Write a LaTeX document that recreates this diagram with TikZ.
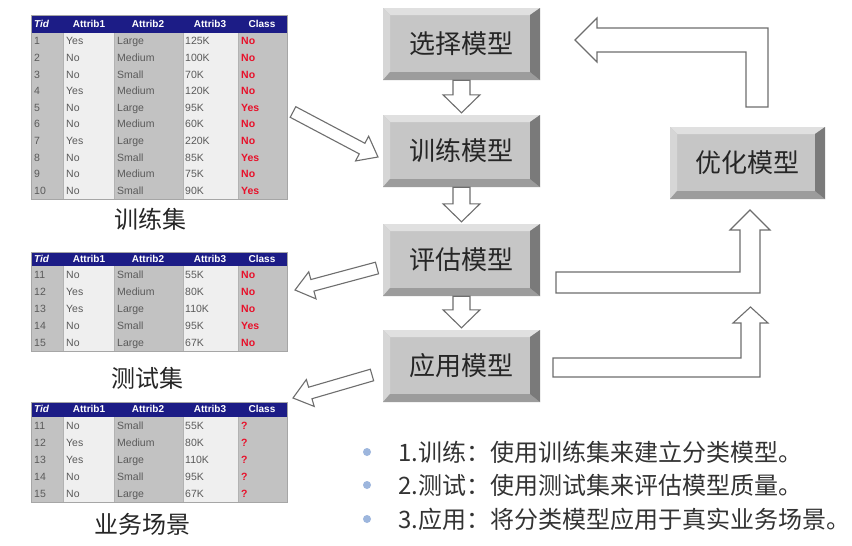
\documentclass[tikz,border=0pt]{standalone}
\usepackage{fontspec}
\setmainfont{Liberation Sans}
\newfontfamily\cjk{Noto Sans CJK SC}
\usetikzlibrary{calc}
\definecolor{hdr}{HTML}{1C1C86}
\definecolor{colD}{HTML}{C2C2C2}
\definecolor{colL}{HTML}{EFEFEF}
\definecolor{celltxt}{HTML}{5A5A5A}
\definecolor{clsred}{HTML}{E8102A}
\definecolor{boxface}{HTML}{C6C6C6}
\definecolor{bevtop}{HTML}{E0E0E0}
\definecolor{bevleft}{HTML}{D6D6D6}
\definecolor{bevbot}{HTML}{9C9C9C}
\definecolor{bevright}{HTML}{7A7A7A}
\definecolor{arrline}{HTML}{6E6E6E}
\definecolor{bul}{HTML}{9DB6DD}
\newcommand\blockarr[5]{%
  \coordinate (ba-h) at ($(#2)!#5!(#1)$);
  \draw[barrow] ($(#1)!#3!90:(#2)$) -- ($(ba-h)!#3!90:(#2)$) -- ($(ba-h)!#4!90:(#2)$) -- (#2)
    -- ($(ba-h)!#4!-90:(#2)$) -- ($(ba-h)!#3!-90:(#2)$) -- ($(#1)!#3!-90:(#2)$) -- cycle;}
\newcommand\drawtable[6]{%
  \pgfmathsetmacro\hbot{#2+#3}
  \pgfmathsetmacro\tbot{#2+#3+#5*#4}
  \fill[colD] (31,\hbot) rectangle (63,\tbot);
  \fill[colL] (63,\hbot) rectangle (114,\tbot);
  \fill[colD] (114,\hbot) rectangle (183,\tbot);
  \fill[colL] (183,\hbot) rectangle (238,\tbot);
  \fill[colD] (238,\hbot) rectangle (287,\tbot);
  \foreach \cx in {63,114,183,238} {\draw[sep] (\cx,\hbot) -- (\cx,\tbot);}
  \fill[hdr] (31,#2) rectangle (287,\hbot);
  \pgfmathsetmacro\hmid{#2+#3/2}
  \node[hcell,anchor=west,font=\fontsize{10}{12}\selectfont\bfseries\itshape] (#1-h0) at (34,\hmid) {Tid};
  \node[hcell] (#1-h1) at (89,\hmid) {Attrib1};
  \node[hcell] (#1-h2) at (148,\hmid) {Attrib2};
  \node[hcell] (#1-h3) at (210,\hmid) {Attrib3};
  \node[hcell] (#1-h4) at (262,\hmid) {Class};
  \foreach \ta/\tb/\tc/\td/\te [count=\i] in {#6} {
    \pgfmathsetmacro\yy{#2+#3+(\i-0.5)*#4}
    \node[cell] (#1-\i-0) at (34,\yy) {\ta};
    \node[cell] (#1-\i-1) at (66,\yy) {\tb};
    \node[cell] (#1-\i-2) at (117,\yy) {\tc};
    \node[cell] (#1-\i-3) at (185,\yy) {\td};
    \node[cls] (#1-\i-4) at (241,\yy) {\te};
  }
  \draw[tborder] (31,#2) rectangle (287,\tbot);
}
\begin{document}
\begin{tikzpicture}[x=1pt,y=-1pt,
  hcell/.style={inner sep=0pt,text=white,text height=7.2pt,text depth=0.3pt,font=\fontsize{10}{12}\selectfont\bfseries},
  cell/.style={inner sep=0pt,anchor=west,text=celltxt,text height=7.5pt,text depth=0.5pt,font=\fontsize{10.5}{12}\selectfont},
  cls/.style={inner sep=0pt,anchor=west,text=clsred,text height=7.5pt,text depth=0.5pt,font=\fontsize{10.5}{12}\selectfont\bfseries},
  sep/.style={draw=gray!60,line width=0.5pt},
  tborder/.style={draw=gray!70,line width=0.8pt},
  barrow/.style={draw=arrline,line width=1.1pt,fill=white,line join=miter},
  lbl/.style={inner sep=0pt,font=\cjk\fontsize{24}{28}\selectfont,text=black!85},
  btxt/.style={inner sep=0pt,anchor=west,font=\cjk\fontsize{24}{28}\selectfont,text=black!80},
  box/.style={minimum width=157pt,minimum height=72pt,inner sep=0pt,fill=boxface,
    font=\cjk\fontsize{26}{30}\selectfont,text=black!85,
    path picture={
      \fill[bevtop] (path picture bounding box.north west) -- (path picture bounding box.north east)
        -- ([shift={(-10pt,-7pt)}]path picture bounding box.north east) -- ([shift={(7pt,-7pt)}]path picture bounding box.north west) -- cycle;
      \fill[bevleft] (path picture bounding box.north west) -- ([shift={(7pt,-7pt)}]path picture bounding box.north west)
        -- ([shift={(7pt,8pt)}]path picture bounding box.south west) -- (path picture bounding box.south west) -- cycle;
      \fill[bevbot] (path picture bounding box.south west) -- ([shift={(7pt,8pt)}]path picture bounding box.south west)
        -- ([shift={(-10pt,8pt)}]path picture bounding box.south east) -- (path picture bounding box.south east) -- cycle;
      \fill[bevright] (path picture bounding box.north east) -- (path picture bounding box.south east)
        -- ([shift={(-10pt,8pt)}]path picture bounding box.south east) -- ([shift={(-10pt,-7pt)}]path picture bounding box.north east) -- cycle;
    }}
]
\fill[white] (0,0) rectangle (852,546);
\useasboundingbox (0,0) rectangle (852,546);

% tables
\drawtable{t1}{15}{18}{16.6}{10}{1/Yes/Large/125K/No, 2/No/Medium/100K/No, 3/No/Small/70K/No, 4/Yes/Medium/120K/No, 5/No/Large/95K/Yes, 6/No/Medium/60K/No, 7/Yes/Large/220K/No, 8/No/Small/85K/Yes, 9/No/Medium/75K/No, 10/No/Small/90K/Yes}
\drawtable{t2}{252}{14}{17}{5}{11/No/Small/55K/No, 12/Yes/Medium/80K/No, 13/Yes/Large/110K/No, 14/No/Small/95K/Yes, 15/No/Large/67K/No}
\drawtable{t3}{402}{15}{17}{5}{11/No/Small/55K/?, 12/Yes/Medium/80K/?, 13/Yes/Large/110K/?, 14/No/Small/95K/?, 15/No/Large/67K/?}

\node[lbl] (l1) at (150,219) {训练集};
\node[lbl] (l2) at (147,378) {测试集};
\node[lbl] (l3) at (142,524) {业务场景};

% boxes
\node[box] (sel) at (461.5,44) {选择模型};
\node[box] (trn) at (461.5,151) {训练模型};
\node[box] (evl) at (461.5,260) {评估模型};
\node[box] (app) at (461.5,366) {应用模型};
\node[box,minimum width=155pt] (opt) at (747.5,163) {优化模型};

% down arrows
\coordinate (d1) at ($(trn.north)+(0,-2)$);
\coordinate (d2) at ($(evl.north)+(0,-2)$);
\coordinate (d3) at ($(app.north)+(0,-2)$);
\blockarr{sel.south}{d1}{8.5pt}{18.5pt}{18pt}
\blockarr{trn.south}{d2}{8.5pt}{18.5pt}{18pt}
\blockarr{evl.south}{d3}{8.5pt}{18.5pt}{18pt}

% diagonal arrows
\coordinate (a1s) at (293,112); \coordinate (a1e) at (378,157);
\coordinate (a2s) at (377,268); \coordinate (a2e) at (295,290);
\coordinate (a3s) at (372,375); \coordinate (a3e) at (293,398);
\blockarr{a1s}{a1e}{6pt}{14pt}{18pt}
\blockarr{a2s}{a2e}{6pt}{14pt}{18pt}
\blockarr{a3s}{a3e}{6pt}{14pt}{18pt}

% L arrows
\draw[barrow] (768,107) -- (768,28) -- (597,28) -- (597,18) -- (575,40) -- (597,62) -- (597,52) -- (746,52) -- (746,107) -- cycle;
\draw[barrow] (556,272) -- (740,272) -- (740,230) -- (730,230) -- (750,210) -- (770,230) -- (760,230) -- (760,293) -- (556,293) -- cycle;
\draw[barrow] (553,358) -- (741,358) -- (741,323) -- (733,323) -- (750.5,307) -- (768,323) -- (760,323) -- (760,377) -- (553,377) -- cycle;

% bullets
\foreach \yy/\tx [count=\k] in {452/{1.训练：使用训练集来建立分类模型。}, 485/{2.测试：使用测试集来评估模型质量。}, 519/{3.应用：将分类模型应用于真实业务场景。}} {
  \fill[bul] (367,\yy) circle (4);
  \node[btxt] (b\k) at (398,\yy) {\tx};
}
\end{tikzpicture}
\end{document}
